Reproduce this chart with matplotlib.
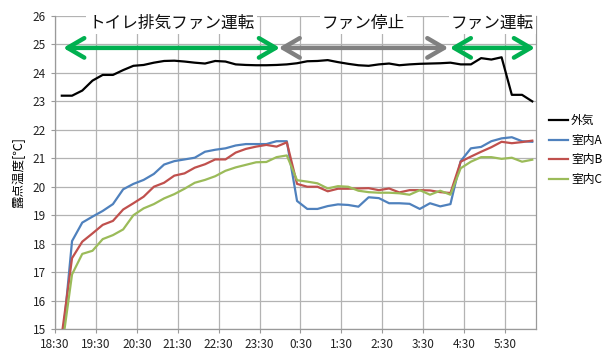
import numpy as np
import pandas as pd
import matplotlib
matplotlib.use('Agg')
import matplotlib.pyplot as plt
import matplotlib.dates as mdates

plt.rcParams['font.family'] = ['Noto Sans CJK JP', 'DejaVu Sans']

# 15 min readings starting 18:40
times = pd.date_range('2000-01-01 18:40', periods=47, freq='15min')

outside = [23.2, 23.2, 23.38, 23.73, 23.93, 23.93, 24.1, 24.25, 24.28, 24.36,
           24.42, 24.43, 24.4, 24.36, 24.33, 24.42, 24.4, 24.3, 24.28, 24.27,
           24.27, 24.28, 24.3, 24.34, 24.41, 24.42, 24.45, 24.38, 24.32, 24.27,
           24.25, 24.3, 24.33, 24.27, 24.3, 24.32, 24.33, 24.34, 24.36, 24.3,
           24.3, 24.52, 24.47, 24.55, 23.23, 23.23, 23.0]
room_a = [14.3, 18.09, 18.74, 18.95, 19.15, 19.39, 19.91, 20.1, 20.24, 20.45,
          20.78, 20.9, 20.96, 21.02, 21.23, 21.3, 21.35, 21.45, 21.5, 21.5,
          21.5, 21.6, 21.6, 19.5, 19.22, 19.22, 19.32, 19.38, 19.36, 19.3,
          19.63, 19.6, 19.42, 19.42, 19.4, 19.22, 19.42, 19.31, 19.39, 20.9,
          21.35, 21.4, 21.6, 21.7, 21.74, 21.6, 21.58]
room_b = [14.8, 17.49, 18.07, 18.36, 18.66, 18.8, 19.2, 19.42, 19.65, 20.0,
          20.14, 20.39, 20.47, 20.67, 20.79, 20.96, 20.96, 21.2, 21.33, 21.41,
          21.47, 21.41, 21.56, 20.1, 20.0, 20.0, 19.84, 19.93, 19.93, 19.94,
          19.95, 19.88, 19.94, 19.8, 19.88, 19.88, 19.87, 19.81, 19.78, 20.88,
          21.06, 21.23, 21.39, 21.58, 21.53, 21.57, 21.62]
room_c = [14.3, 16.92, 17.64, 17.75, 18.16, 18.3, 18.5, 19.0, 19.24, 19.39,
          19.59, 19.74, 19.93, 20.14, 20.24, 20.37, 20.56, 20.68, 20.77, 20.86,
          20.87, 21.04, 21.1, 20.23, 20.18, 20.12, 19.94, 20.02, 20.0, 19.86,
          19.81, 19.79, 19.79, 19.77, 19.72, 19.88, 19.72, 19.86, 19.72, 20.65,
          20.88, 21.04, 21.04, 20.98, 21.02, 20.88, 20.95]

series = [('外気', outside, 'black'),
          ('室内A', room_a, '#4F81BD'),
          ('室内B', room_b, '#C0504D'),
          ('室内C', room_c, '#9BBB59')]

# fan periods: label, start, end, colour
periods = [('トイレ排気ファン運転', '2000-01-01 18:42', '2000-01-02 00:00', '#00B050'),
           ('ファン停止', '2000-01-01 23:58', '2000-01-02 04:07', '#808080'),
           ('ファン運転', '2000-01-02 04:09', '2000-01-02 06:14', '#00B050')]

fig = plt.figure(figsize=(6.07, 3.52), dpi=100)
ax = fig.add_axes([0.0906, 0.0653, 0.7919, 0.8892])

for name, vals, col in series:
    ax.plot(times, vals, color=col, lw=1.6, label=name, zorder=3)

x0 = pd.Timestamp('2000-01-01 18:30')
ax.set_xlim(x0, x0 + pd.Timedelta(hours=11.75))
ax.set_ylim(15, 26)
ax.set_yticks(np.arange(15, 27, 1))
ax.set_xticks(pd.date_range(x0, periods=12, freq='1h'))
ax.xaxis.set_major_formatter(mdates.DateFormatter('%-H:%M'))
ax.grid(True, color='#b3b3b3', lw=0.9)
ax.set_axisbelow(True)
for s in ax.spines.values():
    s.set_color('#9a9a9a')
    s.set_linewidth(0.9)
ax.spines['top'].set_visible(False)
ax.tick_params(axis='both', labelsize=8.5, colors='#9a9a9a', length=3, labelcolor='#222222')
ax.set_ylabel('露点温度[℃]', fontsize=9, labelpad=5)

ay = 24.88
for label, s, e, col in periods:
    s = pd.Timestamp(s)
    e = pd.Timestamp(e)
    ax.annotate('', xy=(e, ay), xytext=(s, ay), annotation_clip=False,
                arrowprops=dict(arrowstyle='<->,head_length=0.6,head_width=0.35',
                                lw=3.2, color=col, mutation_scale=20,
                                shrinkA=0, shrinkB=0), zorder=4)
    ax.text(s + (e - s) / 2, 25.75, label, ha='center', va='center', fontsize=12,
            color='#111111', zorder=5,
            bbox=dict(facecolor='white', edgecolor='none', pad=1.5))

ax.legend(loc='upper left', bbox_to_anchor=(1.005, 0.72), frameon=False,
          fontsize=8.5, handlelength=1.6, handletextpad=0.3, labelspacing=0.55)

plt.savefig('out.png', dpi=100)
